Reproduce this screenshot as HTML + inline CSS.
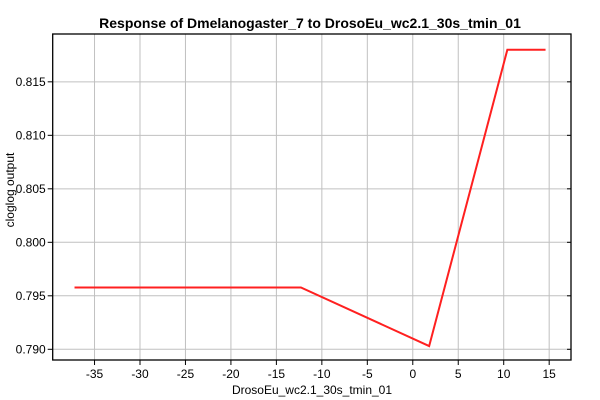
<!DOCTYPE html>
<html><head><meta charset="utf-8"><style>
body{margin:0;background:#fff;}
svg{font-family:"Liberation Sans",Arial,sans-serif;display:block}
</style></head><body>
<svg id="chart" width="600" height="400">
<text x="310" y="28" text-anchor="middle" font-size="14" font-weight="bold">Response of Dmelanogaster_7 to DrosoEu_wc2.1_30s_tmin_01</text>
<text transform="translate(14,190) rotate(-90)" text-anchor="middle" font-size="12">cloglog output</text>
<text x="312" y="394" text-anchor="middle" font-size="12">DrosoEu_wc2.1_30s_tmin_01</text>
<g id="grid"></g><g id="axes"></g><g id="series"></g>
</svg>
<script>
const xTicks=[-35,-30,-25,-20,-15,-10,-5,0,5,10,15];
const yTicks=[0.790,0.795,0.800,0.805,0.810,0.815];
const xVals=[-37.2,-12.3,1.8,10.4,14.6];
const yVals=[0.79578,0.79578,0.79030,0.81800,0.81800];
const L=52.7,R=571,T=34,B=360;
const x0=-39.6,x1=17.4,y0=0.7890,y1=0.81947;
const sx=v=>L+(v-x0)/(x1-x0)*(R-L);
const sy=v=>B-(v-y0)/(y1-y0)*(B-T);
const NS="http://www.w3.org/2000/svg";
function mk(t,a,p){const e=document.createElementNS(NS,t);for(const k in a)e.setAttribute(k,a[k]);p.appendChild(e);return e;}
const g=document.getElementById('grid'),ax=document.getElementById('axes'),s=document.getElementById('series');
mk('rect',{x:L,y:T,width:R-L,height:B-T,fill:'#fff'},g);
xTicks.forEach(v=>{const X=sx(v);
const l=mk('line',{x1:X,x2:X,y1:T,y2:B,stroke:'#c0c0c0','stroke-width':1},g);


mk('line',{x1:X,x2:X,y1:B,y2:B+5,stroke:'#000'},ax);
mk('line',{x1:X,x2:X,y1:T,y2:T-0,stroke:'#000'},ax);
const t=mk('text',{x:X,y:B+18,'text-anchor':'middle','font-size':12},ax);t.textContent=v;

});
yTicks.forEach(v=>{const Y=sy(v);
const l=mk('line',{x1:L,x2:R,y1:Y,y2:Y,stroke:'#c0c0c0','stroke-width':1},g);


mk('line',{x1:L-5,x2:L,y1:Y,y2:Y,stroke:'#000'},ax);
mk('line',{x1:R-4,x2:R,y1:Y,y2:Y,stroke:'#000'},ax);
const t=mk('text',{x:L-7,y:Y+4,'text-anchor':'end','font-size':12},ax);t.textContent=v.toFixed(3);

});
const fr=mk('rect',{x:L,y:T,width:R-L,height:B-T,fill:'none',stroke:'#000','stroke-width':1.3},ax);


const pl=mk('polyline',{points:xVals.map((v,i)=>sx(v)+','+sy(yVals[i])).join(' '),fill:'none',stroke:'#ff2020','stroke-width':2},s);


</script>
</body></html>
